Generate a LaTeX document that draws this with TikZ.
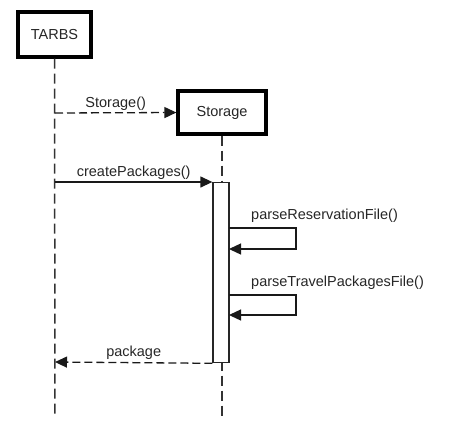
\documentclass[tikz,border=0pt]{standalone}
\usepackage{fontspec}
\setmainfont{Liberation Sans}
\usetikzlibrary{arrows.meta}
\begin{document}
\begin{tikzpicture}[x=1pt,y=-1pt,
  every node/.style={font=\fontsize{14.5}{17}\selectfont, text=black!85},
  actor/.style={draw=black, line width=3.2pt, fill=white, inner sep=0pt},
  lifeline/.style={draw=black!80, line width=1.5pt, dash pattern=on 10pt off 5pt},
  msg/.style={draw=black!90, line width=1.3pt, -{Triangle[length=12pt,width=11pt]}},
  ret/.style={msg, dash pattern=on 8pt off 4pt},
  act/.style={draw=black!85, line width=1.3pt, fill=white},
  lbl/.style={inner sep=1pt}]
\useasboundingbox (0,0) rectangle (453,432);
% actors
\node[actor, minimum width=73pt, minimum height=45pt] (tarbs) at (54.5,34.5) {TARBS};
\node[actor, minimum width=88pt, minimum height=43pt] (stor) at (222,112.5) {Storage};
% lifelines
\coordinate (tend) at (55,418);
\coordinate (send) at (222,418);
\draw[lifeline] (tarbs.south) -- (tend);
\draw[lifeline] (stor.south) -- (send);
% activation
\node[act, minimum width=16pt, minimum height=180pt, inner sep=0pt, anchor=north] (actbox) at (221,182) {};
% messages
\coordinate (m1s) at (55,113);
\draw[ret] (m1s) -- (stor.west) node[midway, above=1pt, lbl] {Storage()};
\coordinate (m2s) at (55,182);
\draw[msg] (m2s) -- (actbox.north west) node[midway, above=1pt, lbl] {createPackages()};
% self calls
\coordinate (s1a) at (229,228);
\coordinate (s1b) at (296,228);
\coordinate (s1c) at (296,249);
\coordinate (s1d) at (229,249);
\draw[msg] (s1a) -- (s1b) -- (s1c) -- (s1d);
\node[lbl, anchor=south west] (l1) at (250,224) {parseReservationFile()};
\coordinate (s2a) at (229,295);
\coordinate (s2b) at (296,295);
\coordinate (s2c) at (296,315);
\coordinate (s2d) at (229,315);
\draw[msg] (s2a) -- (s2b) -- (s2c) -- (s2d);
\node[lbl, anchor=south west] (l2) at (250,291) {parseTravelPackagesFile()};
% return
\coordinate (r1e) at (55,362);
\draw[ret] (actbox.south west) -- (r1e) node[midway, above=1pt, lbl] {package};
\end{tikzpicture}
\end{document}
